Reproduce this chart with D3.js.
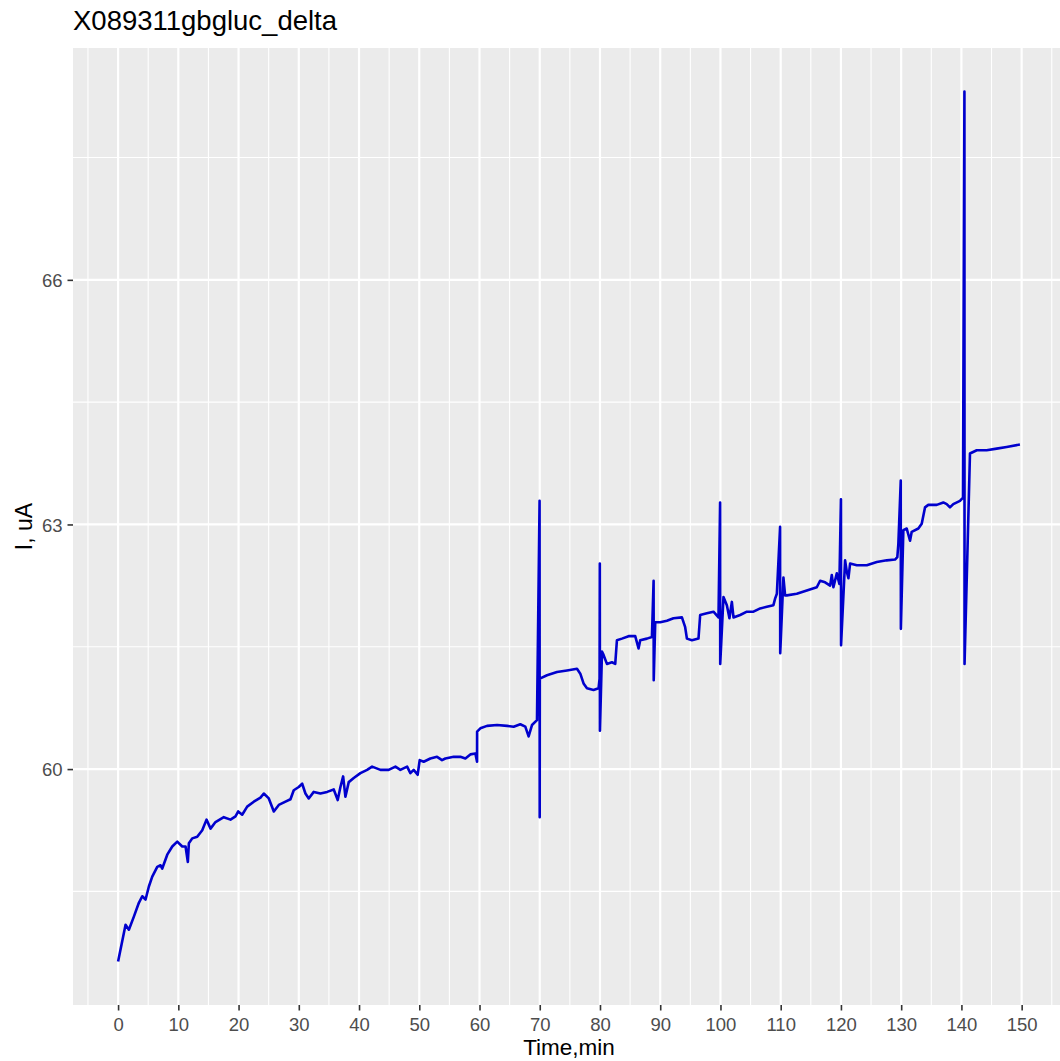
<!DOCTYPE html>
<html>
<head>
<meta charset="utf-8">
<script src="https://cdn.jsdelivr.net/npm/d3@7/dist/d3.min.js"></script>
<style>
  html, body { margin: 0; padding: 0; background: #fff; }
  svg { display: block; }
  text { font-family: "Liberation Sans", Arial, Helvetica, sans-serif; }
</style>
</head>
<body>
<svg id="chart" width="1060" height="1061"></svg>
<script>
const chartTitle = "X089311gbgluc_delta";
const xLabel = "Time,min";
const yLabel = "I, uA";

const xTicks = [0, 10, 20, 30, 40, 50, 60, 70, 80, 90, 100, 110, 120, 130, 140, 150];
const xMinor = [-5, 5, 15, 25, 35, 45, 55, 65, 75, 85, 95, 105, 115, 125, 135, 145, 155];
const yTicks = [60, 63, 66];
const yMinor = [58.5, 61.5, 64.5, 67.5];

const time = [
  0.00, 1.24, 1.79, 2.62, 3.45, 4.01, 4.56, 5.11, 5.67, 6.50, 7.05, 7.33, 8.16, 8.99, 9.82,
  10.65, 11.20, 11.58, 11.75, 12.31, 13.14, 13.97, 14.68, 15.35, 16.17, 17.55, 18.66, 19.49, 19.94,
  20.60, 21.43, 22.53, 23.64, 24.19, 25.02, 25.85, 26.68, 27.79, 28.62, 29.16, 29.99,
  30.56, 31.10, 31.65, 32.48, 33.59, 34.70, 35.80, 36.46, 36.91, 37.36, 37.74, 38.29, 39.12,
  40.23, 41.34, 42.17, 43.55, 44.92, 46.04, 46.86, 47.98, 48.52, 49.07, 49.73,
  50.07, 50.73, 51.84, 52.95, 53.78, 54.33, 55.71, 56.82, 57.65, 58.48, 59.31, 59.59, 59.60,
  60.14, 61.25, 62.91, 64.57, 65.66, 66.77, 67.60, 68.15, 68.71, 69.54,
  69.97, 69.99, 70.01, 71.20, 72.86, 74.52, 76.18, 76.73, 77.27, 77.84, 78.93, 79.76, 79.93,
  79.97, 79.99, 80.33, 80.59, 81.15, 81.98, 82.53, 82.81, 83.64, 84.74, 85.85, 86.40, 86.68,
  87.79, 88.62, 88.90, 88.92, 89.17, 90.00, 91.11, 92.20, 93.60, 94.14, 94.43, 95.26, 96.35,
  96.63, 97.74, 98.84, 99.67, 99.94, 99.96, 100.50, 101.06, 101.49, 101.89, 102.16, 103.27,
  104.38, 105.48, 106.59, 107.70, 108.79, 109.07, 109.36, 109.90, 109.92, 110.45, 110.73,
  111.02, 112.67, 114.33, 115.99, 116.54, 117.37, 118.20, 118.48, 118.75, 119.31, 119.74,
  120.00, 120.02, 120.69, 120.97, 121.24, 121.52, 122.63, 124.29, 125.95, 127.60, 128.98,
  129.36, 129.53, 129.93, 129.95, 130.36, 130.92, 131.47, 131.75, 132.85, 133.41, 133.96,
  134.50, 135.90, 137.00, 137.56, 138.10, 138.65, 139.76, 140.26, 140.50, 140.52, 141.42,
  142.54, 144.19, 145.85, 147.51, 149.71
];

const current = [
  57.64, 58.09, 58.03, 58.19, 58.36, 58.44, 58.40, 58.56, 58.68, 58.80, 58.82, 58.78, 58.95, 59.05, 59.11,
  59.05, 59.05, 58.86, 59.09, 59.15, 59.17, 59.25, 59.38, 59.27, 59.35, 59.41, 59.38, 59.42, 59.48,
  59.44, 59.54, 59.60, 59.65, 59.70, 59.64, 59.48, 59.56, 59.60, 59.63, 59.74, 59.78,
  59.82, 59.70, 59.64, 59.72, 59.70, 59.72, 59.75, 59.62, 59.78, 59.91, 59.66, 59.84, 59.89,
  59.95, 59.99, 60.03, 59.99, 59.99, 60.03, 59.99, 60.03, 59.95, 59.99, 59.93,
  60.11, 60.09, 60.13, 60.15, 60.11, 60.13, 60.15, 60.15, 60.13, 60.18, 60.19, 60.09, 60.46,
  60.50, 60.53, 60.54, 60.53, 60.52, 60.55, 60.52, 60.40, 60.54, 60.60,
  63.29, 59.41, 61.11, 61.15, 61.19, 61.21, 61.23, 61.17, 61.05, 60.99, 60.97, 60.99, 61.11,
  62.52, 60.47, 61.44, 61.40, 61.29, 61.31, 61.29, 61.58, 61.60, 61.63, 61.63, 61.48, 61.58,
  61.60, 61.62, 62.31, 61.09, 61.80, 61.80, 61.82, 61.85, 61.86, 61.74, 61.60, 61.58, 61.60,
  61.89, 61.91, 61.93, 61.86, 63.27, 61.29, 62.11, 62.01, 61.85, 62.05, 61.86, 61.89,
  61.93, 61.93, 61.97, 61.99, 62.01, 62.09, 62.15, 62.97, 61.42, 62.35, 62.13,
  62.13, 62.15, 62.19, 62.23, 62.31, 62.29, 62.25, 62.38, 62.23, 62.40, 62.27,
  63.31, 61.52, 62.56, 62.42, 62.34, 62.52, 62.50, 62.50, 62.54, 62.56, 62.57,
  62.60, 62.76, 63.54, 61.72, 62.93, 62.95, 62.80, 62.91, 62.95, 63.01, 63.21,
  63.24, 63.24, 63.27, 63.25, 63.21, 63.25, 63.29, 63.33, 68.31, 61.29, 63.87,
  63.91, 63.91, 63.93, 63.95, 63.98
];

const data = time.map((t, i) => ({ t, v: current[i] }));

const panel = { left: 73, top: 48, right: 1065, bottom: 1005 };

function expand(ext, f) {
  const d = (ext[1] - ext[0]) * f;
  return [ext[0] - d, ext[1] + d];
}

const x = d3.scaleLinear().domain(expand(d3.extent(time), 0.05)).range([panel.left, panel.right]);
const y = d3.scaleLinear().domain(expand(d3.extent(current), 0.05)).range([panel.bottom, panel.top]);

const svg = d3.select("#chart");

svg.append("defs").append("clipPath").attr("id", "clip")
  .append("rect")
  .attr("x", panel.left).attr("y", panel.top)
  .attr("width", panel.right - panel.left).attr("height", panel.bottom - panel.top);

svg.append("rect")
  .attr("x", panel.left).attr("y", panel.top)
  .attr("width", panel.right - panel.left).attr("height", panel.bottom - panel.top)
  .attr("fill", "#EBEBEB");

const grid = svg.append("g").attr("clip-path", "url(#clip)");

grid.selectAll(".ymin").data(yMinor).enter().append("line")
  .attr("x1", panel.left).attr("x2", panel.right)
  .attr("y1", d => y(d)).attr("y2", d => y(d))
  .attr("stroke", "#fff").attr("stroke-width", 1.1);
grid.selectAll(".xmin").data(xMinor).enter().append("line")
  .attr("y1", panel.top).attr("y2", panel.bottom)
  .attr("x1", d => x(d)).attr("x2", d => x(d))
  .attr("stroke", "#fff").attr("stroke-width", 1.1);
grid.selectAll(".ymaj").data(yTicks).enter().append("line")
  .attr("x1", panel.left).attr("x2", panel.right)
  .attr("y1", d => y(d)).attr("y2", d => y(d))
  .attr("stroke", "#fff").attr("stroke-width", 2.2);
grid.selectAll(".xmaj").data(xTicks).enter().append("line")
  .attr("y1", panel.top).attr("y2", panel.bottom)
  .attr("x1", d => x(d)).attr("x2", d => x(d))
  .attr("stroke", "#fff").attr("stroke-width", 2.2);

const line = d3.line().x(d => x(d.t)).y(d => y(d.v));
svg.append("g").attr("clip-path", "url(#clip)")
  .append("path")
  .datum(data)
  .attr("d", line)
  .attr("fill", "none")
  .attr("stroke", "#0000CD")
  .attr("stroke-width", 2.6)
  .attr("stroke-linejoin", "round");

// Axes
const xAxis = d3.axisBottom(x).tickValues(xTicks).tickSize(5.5).tickPadding(4).tickFormat(d3.format("d"));
const gx = svg.append("g").attr("transform", `translate(0,${panel.bottom})`).call(xAxis);
gx.select(".domain").remove();
gx.selectAll(".tick line").attr("stroke", "#333333").attr("stroke-width", 1.6);
gx.selectAll(".tick text").attr("fill", "#4D4D4D").attr("font-size", "18.5px")
  .attr("font-family", "'Liberation Sans', Arial, sans-serif").attr("dy", null).attr("y", 25.5);

const yAxis = d3.axisLeft(y).tickValues(yTicks).tickSize(5.5).tickPadding(5).tickFormat(d3.format("d"));
const gy = svg.append("g").attr("transform", `translate(${panel.left},0)`).call(yAxis);
gy.select(".domain").remove();
gy.selectAll(".tick line").attr("stroke", "#333333").attr("stroke-width", 1.6);
gy.selectAll(".tick text").attr("fill", "#4D4D4D").attr("font-size", "18.5px")
  .attr("font-family", "'Liberation Sans', Arial, sans-serif").attr("dy", "0.36em");

// Titles
svg.append("text")
  .attr("x", panel.left).attr("y", 29.5)
  .attr("font-size", "27.5px").attr("fill", "#000")
  .text(chartTitle);

svg.append("text")
  .attr("x", (panel.left + panel.right) / 2).attr("y", 1055)
  .attr("text-anchor", "middle")
  .attr("font-size", "22.5px").attr("fill", "#000")
  .text(xLabel);

svg.append("text")
  .attr("transform", `translate(32,${(panel.top + panel.bottom) / 2}) rotate(-90)`)
  .attr("text-anchor", "middle")
  .attr("font-size", "23px").attr("fill", "#000")
  .text(yLabel);
</script>
</body>
</html>
